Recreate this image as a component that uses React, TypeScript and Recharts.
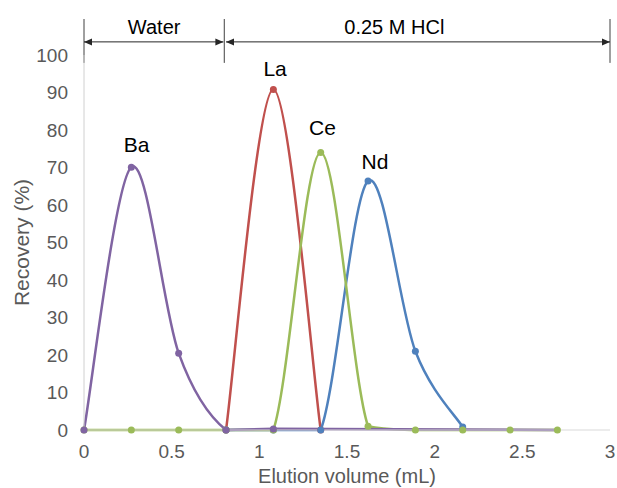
import {
  LineChart,
  Line,
  XAxis,
  YAxis,
  ReferenceLine,
  ReferenceDot,
} from "recharts";

// elution volume (mL) for each fraction
const volume = [0, 0.27, 0.54, 0.81, 1.08, 1.35, 1.62, 1.89, 2.16, 2.43, 2.7];

// recovery (%) per element, null = not measured / not drawn
const ba = [0, 70.1, 20.5, 0, 0.3, null, null, null, null, null, 0];
const la = [null, null, null, 0, 90.8, 0, null, null, null, null, null];
const ce = [0, 0, 0, 0, 0, 74, 1, 0, 0, 0, 0];
const nd = [null, null, null, 0, 0, 0, 66.4, 21, 0.8, null, null];

const xTicks = [0, 0.5, 1, 1.5, 2, 2.5, 3];
const yTicks = [0, 10, 20, 30, 40, 50, 60, 70, 80, 90, 100];

const rows = volume.map((v, i) => ({
  volume: v,
  Ba: ba[i],
  La: la[i],
  Ce: ce[i],
  Nd: nd[i],
}));

const colors: Record<string, string> = {
  Ba: "#8064a2",
  La: "#c0504d",
  Ce: "#9bbb59",
  Nd: "#4f81bd",
};

// peak labels
const peakNames = ["Ba", "La", "Ce", "Nd"];
const peakX = [0.3, 1.09, 1.36, 1.66];
const peakY = [76, 96.3, 80.5, 71.5];

// excel-ish smoothed line (catmull-rom), flat bits kept flat, no dip below baseline
const smooth = (context: any) => {
  let pts: [number, number][] = [];
  return {
    areaStart() {},
    areaEnd() {},
    lineStart() {
      pts = [];
    },
    point(x: number, y: number) {
      pts.push([+x, +y]);
    },
    lineEnd() {
      if (!pts.length) return;
      context.moveTo(pts[0][0], pts[0][1]);
      for (let i = 0; i < pts.length - 1; i++) {
        const p0 = pts[i - 1] || pts[i];
        const p1 = pts[i];
        const p2 = pts[i + 1];
        const p3 = pts[i + 2] || p2;
        if (Math.abs(p2[1] - p1[1]) < 2) {
          context.lineTo(p2[0], p2[1]);
          continue;
        }
        const low = Math.max(p1[1], p2[1]);
        const c1x = p1[0] + (p2[0] - p0[0]) / 6;
        const c1y = Math.min(p1[1] + (p2[1] - p0[1]) / 6, low);
        const c2x = p2[0] - (p3[0] - p1[0]) / 6;
        const c2y = Math.min(p2[1] - (p3[1] - p1[1]) / 6, low);
        context.bezierCurveTo(c1x, c1y, c2x, c2y, p2[0], p2[1]);
      }
    },
  };
};

const head = (x: number, y: number, dir: number, color: string) => (
  <polygon
    points={`${x},${y} ${x - dir * 8},${y - 3.5} ${x - dir * 8},${y + 3.5}`}
    fill={color}
  />
);

const ArrowLine = (p: any) => (
  <g>
    <line x1={p.x1} y1={p.y1} x2={p.x2} y2={p.y2} stroke="#262626" strokeWidth={1} />
    {head(p.x1, p.y1, -1, "#262626")}
    {head(p.x2, p.y2, 1, "#262626")}
  </g>
);

const textShape = (label: string, size: number) => (p: any) => (
  <text
    x={p.cx}
    y={p.cy}
    dy="0.35em"
    textAnchor="middle"
    fontSize={size}
    fill="#000"
  >
    {label}
  </text>
);

// Ba's last point only closes the baseline, excel shows no marker there
const baDot = (p: any) =>
  p.index === volume.length - 1 || p.value == null || p.cy == null ? (
    <g key={`ba-${p.index}`} />
  ) : (
    <circle key={`ba-${p.index}`} cx={p.cx} cy={p.cy} r={3.5} fill={colors.Ba} />
  );

export default function App() {
  return (
    <div
      style={{
        position: "absolute",
        left: 0,
        top: 0,
        fontFamily: "'Liberation Sans', Arial, sans-serif",
        background: "#fff",
      }}
    >
      <LineChart
        width={617}
        height={488}
        data={rows}
        margin={{ top: 55, right: 7, left: 0, bottom: 0 }}
      >
        <XAxis
          dataKey="volume"
          type="number"
          domain={[0, 3]}
          ticks={xTicks}
          tickLine={false}
          tickSize={0}
          tickMargin={15}
          axisLine={{ stroke: "#d9d9d9" }}
          tick={{ fill: "#595959", fontSize: 19 }}
          height={58}
          label={{
            value: "Elution volume (mL)",
            position: "insideBottom",
            offset: 5,
            fill: "#595959",
            fontSize: 20,
          }}
        />
        <YAxis
          type="number"
          domain={[0, 100]}
          ticks={yTicks}
          tickLine={false}
          tickSize={0}
          tickMargin={16}
          axisLine={{ stroke: "#d0d0d0" }}
          tick={{ fill: "#595959", fontSize: 19 }}
          width={84}
          label={{
            value: "Recovery (%)",
            angle: -90,
            position: "insideLeft",
            offset: 22,
            fill: "#595959",
            fontSize: 21,
            style: { textAnchor: "middle" },
          }}
        />

        {/* eluent bands above the plot */}
        <ReferenceLine
          segment={[{ x: 0, y: 97.9 }, { x: 0, y: 109.6 }]}
          stroke="#404040"
          ifOverflow="visible"
        />
        <ReferenceLine
          segment={[{ x: 0.8, y: 97.9 }, { x: 0.8, y: 109.6 }]}
          stroke="#404040"
          ifOverflow="visible"
        />
        <ReferenceLine
          segment={[{ x: 3, y: 97.9 }, { x: 3, y: 109.6 }]}
          stroke="#404040"
          ifOverflow="visible"
        />
        <ReferenceLine
          segment={[{ x: 0, y: 103.5 }, { x: 0.795, y: 103.5 }]}
          ifOverflow="visible"
          shape={ArrowLine}
        />
        <ReferenceLine
          segment={[{ x: 0.81, y: 103.5 }, { x: 3, y: 103.5 }]}
          ifOverflow="visible"
          shape={ArrowLine}
        />
        <ReferenceDot x={0.4} y={107.6} r={0} ifOverflow="visible" shape={textShape("Water", 20)} />
        <ReferenceDot x={1.77} y={107.6} r={0} ifOverflow="visible" shape={textShape("0.25 M HCl", 20)} />

        <Line
          dataKey="La"
          type={smooth as any}
          stroke={colors.La}
          strokeWidth={2.5}
          dot={{ r: 3.5, fill: colors.La, stroke: colors.La, strokeWidth: 0 }}
          activeDot={false}
          isAnimationActive={false}
        />
        <Line
          dataKey="Nd"
          type={smooth as any}
          stroke={colors.Nd}
          strokeWidth={2.5}
          dot={{ r: 3.5, fill: colors.Nd, stroke: colors.Nd, strokeWidth: 0 }}
          activeDot={false}
          isAnimationActive={false}
        />
        <Line
          dataKey="Ce"
          type={smooth as any}
          stroke={colors.Ce}
          strokeWidth={2.5}
          dot={{ r: 3.5, fill: colors.Ce, stroke: colors.Ce, strokeWidth: 0 }}
          activeDot={false}
          isAnimationActive={false}
        />
        <Line
          dataKey="Ba"
          type={smooth as any}
          connectNulls
          stroke={colors.Ba}
          strokeWidth={2.5}
          dot={baDot}
          activeDot={false}
          isAnimationActive={false}
        />

        {peakNames.map((name, i) => (
          <ReferenceDot
            key={name}
            x={peakX[i]}
            y={peakY[i]}
            r={0}
            ifOverflow="visible"
            shape={textShape(name, 21)}
          />
        ))}
      </LineChart>
    </div>
  );
}
